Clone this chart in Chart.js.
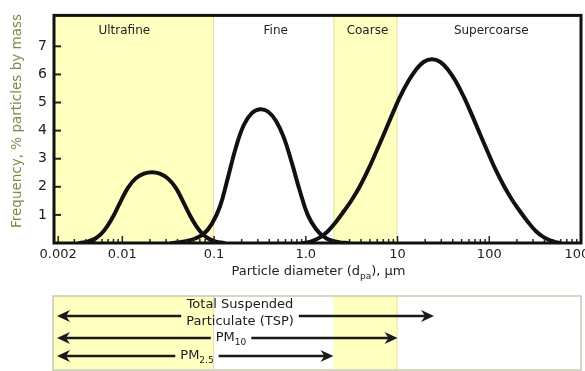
<!DOCTYPE html>
<html><head><meta charset="utf-8">
<script src="https://cdn.jsdelivr.net/npm/chart.js@4/dist/chart.umd.min.js"></script>
<style>html,body{margin:0;padding:0;background:#fff;}canvas{display:block;}</style>
</head><body>
<canvas id="c" width="585" height="371"></canvas>
<script>
// ---- data (particle diameter in µm, frequency in % by mass) ----
const ultrafineX = [0.00344,0.00421,0.00514,0.00628,0.00768,0.00939,0.0115,0.0140,0.0172,0.0210,0.0256,0.0313,0.0383,0.0468,0.0573,0.0700,0.0856,0.105,0.128];
const ultrafineY = [0,0.05,0.17,0.43,0.86,1.42,1.96,2.30,2.47,2.52,2.47,2.30,1.96,1.42,0.86,0.43,0.17,0.05,0];
const fineX = [0.0347,0.0424,0.0518,0.0633,0.0774,0.0946,0.116,0.141,0.173,0.211,0.258,0.316,0.386,0.472,0.577,0.705,0.862,1.05,1.29,1.58,1.93,2.35,2.88];
const fineY = [0,0.03,0.08,0.17,0.33,0.68,1.3,2.3,3.4,4.2,4.62,4.76,4.68,4.35,3.75,2.85,1.85,1.0,0.5,0.22,0.08,0.02,0];
const supercoarseX = [0.954,1.17,1.43,1.74,2.13,2.60,3.18,3.89,4.76,5.81,7.11,8.69,10.6,13.0,15.9,19.4,23.7,29.0,35.5,43.4,53.0,64.8,79.2,96.8,118,145,177,216,264,323,395,483,590];
const supercoarseY = [0,0.07,0.2,0.42,0.75,1.13,1.54,2.02,2.59,3.22,3.88,4.55,5.19,5.74,6.17,6.45,6.54,6.45,6.17,5.74,5.19,4.55,3.88,3.22,2.59,2.02,1.54,1.13,0.75,0.42,0.2,0.07,0];

const bandNames = ['Ultrafine','Fine','Coarse','Supercoarse'];
const bandLow = [0.001, 0.1, 2, 10];
const bandHigh = [0.1, 2, 10, 1000];
const bandShaded = [true, false, true, false];

const xTickValues = [0.002, 0.01, 0.1, 1, 10, 100, 1000];
const xTickLabels = ['0.002','0.01','0.1','1.0','10','100','1000'];
const yTickValues = [1,2,3,4,5,6,7];
const yTitle = 'Frequency, % particles by mass';

const sizeClassLines = [['Total Suspended','Particulate (TSP)'], ['PM','10'], ['PM','2.5']];
const sizeClassUpper = [25, 10, 2];

const xMin = 0.0018, xMax = 1000, yMax = 8.1;

// ---- helpers ----
const FONT = 'DejaVu Sans';
function richText(ctx, parts, cx, cy, size, subSize, color) {
  let w = 0;
  parts.forEach(p => { ctx.font = (p.sub ? subSize : size) + 'px "' + FONT + '"'; w += ctx.measureText(p.t).width; });
  let x = cx - w / 2;
  ctx.fillStyle = color; ctx.textAlign = 'left'; ctx.textBaseline = 'middle';
  parts.forEach(p => {
    ctx.font = (p.sub ? subSize : size) + 'px "' + FONT + '"';
    ctx.fillText(p.t, x, cy + (p.sub ? size * 0.35 : 0));
    x += ctx.measureText(p.t).width;
  });
  return w;
}
function arrowHead(ctx, tipX, y, dir) {
  ctx.beginPath();
  ctx.moveTo(tipX, y);
  ctx.lineTo(tipX - dir * 13, y - 6);
  ctx.lineTo(tipX - dir * 9, y);
  ctx.lineTo(tipX - dir * 13, y + 6);
  ctx.closePath();
  ctx.fill();
}

const decor = {
  id: 'decor',
  beforeDatasetsDraw(chart) {
    const {ctx, chartArea: a, scales: {x}} = chart;
    ctx.save();
    bandNames.forEach((n, i) => {
      if (!bandShaded[i]) return;
      const x0 = x.getPixelForValue(Math.max(bandLow[i], x.min));
      const x1 = x.getPixelForValue(Math.min(bandHigh[i], x.max));
      ctx.fillStyle = '#ffffc0';
      ctx.fillRect(x0, a.top, x1 - x0, a.bottom - a.top);
      ctx.strokeStyle = '#e2e2a6'; ctx.lineWidth = 1;
      ctx.beginPath();
      ctx.moveTo(x0 + 0.5, a.top); ctx.lineTo(x0 + 0.5, a.bottom);
      ctx.moveTo(x1 - 0.5, a.top); ctx.lineTo(x1 - 0.5, a.bottom);
      ctx.stroke();
    });
    ctx.restore();
  },
  afterDatasetsDraw(chart) {
    const {ctx, chartArea: a, scales: {x, y}} = chart;
    ctx.save();
    // band names, centred on the logarithmic middle of each size range
    ctx.font = '12px "' + FONT + '"'; ctx.fillStyle = '#222';
    ctx.textAlign = 'center'; ctx.textBaseline = 'middle';
    bandNames.forEach((n, i) => {
      const mid = Math.sqrt(bandLow[i] * bandHigh[i]);
      ctx.fillText(n, x.getPixelForValue(mid) + 2, a.top + 15);
    });
    // inner ticks
    ctx.strokeStyle = '#222';
    ctx.lineWidth = 1.5;
    x.ticks.forEach(t => {
      const px = x.getPixelForValue(t.value);
      const len = xTickValues.includes(t.value) ? 7 : 4;
      ctx.beginPath(); ctx.moveTo(px, a.bottom); ctx.lineTo(px, a.bottom - len); ctx.stroke();
    });
    ctx.lineWidth = 2;
    y.ticks.forEach(t => {
      const py = y.getPixelForValue(t.value);
      ctx.beginPath(); ctx.moveTo(a.left, py); ctx.lineTo(a.left + 7, py); ctx.stroke();
    });
    // frame
    ctx.strokeStyle = '#111'; ctx.lineWidth = 3;
    ctx.strokeRect(a.left, a.top, a.right - a.left, a.bottom - a.top);
    ctx.restore();
  },
  afterDraw(chart) {
    const {ctx, chartArea: a, scales: {x}} = chart;
    ctx.save();
    // y-axis title
    ctx.translate(17, 121);
    ctx.rotate(-Math.PI / 2);
    ctx.font = '13.5px "' + FONT + '"'; ctx.fillStyle = '#86864a';
    ctx.textAlign = 'center'; ctx.textBaseline = 'middle';
    ctx.fillText(yTitle, 0, 0);
    ctx.setTransform(1, 0, 0, 1, 0, 0);
    // x-axis title
    richText(ctx, [{t:'Particle diameter (d'},{t:'pa',sub:true},{t:'), µm'}], (a.left + a.right) / 2 + 1, 272, 13, 9, '#222');
    // lower panel
    const top = 296, bottom = 370, left = a.left - 1, right = a.right;
    bandNames.forEach((n, i) => {
      if (!bandShaded[i]) return;
      const x0 = x.getPixelForValue(Math.max(bandLow[i], x.min));
      const x1 = x.getPixelForValue(Math.min(bandHigh[i], x.max));
      ctx.fillStyle = '#ffffc0';
      ctx.fillRect(x0, top, x1 - x0, bottom - top);
      ctx.strokeStyle = '#e2e2a6'; ctx.lineWidth = 1;
      ctx.beginPath(); ctx.moveTo(x1 - 0.5, top); ctx.lineTo(x1 - 0.5, bottom); ctx.stroke();
    });
    ctx.strokeStyle = '#c9c9b4'; ctx.lineWidth = 1.5;
    ctx.strokeRect(left, top, right - left, bottom - top);

    const rowsY = [316, 338, 356];
    const labelX = [240, 231, 197];
    sizeClassLines.forEach((lab, i) => {
      const yy = rowsY[i];
      const x0 = x.getPixelForValue(x.min) + 3;
      const x1 = x.getPixelForValue(sizeClassUpper[i]);
      let w;
      if (i === 0) {
        ctx.font = '13px "' + FONT + '"';
        ctx.textAlign = 'center'; ctx.textBaseline = 'middle'; ctx.fillStyle = '#1a1a1a';
        ctx.fillText(lab[0], labelX[i], yy - 11);
        ctx.fillText(lab[1], labelX[i], yy + 6);
        w = ctx.measureText(lab[1]).width;
      } else {
        w = richText(ctx, [{t: lab[0]}, {t: lab[1], sub: true}], labelX[i], yy, 13, 9, '#1a1a1a');
      }
      const g0 = labelX[i] - w / 2 - 5, g1 = labelX[i] + w / 2 + 5;
      ctx.lineWidth = 2.5; ctx.strokeStyle = '#1a1a1a'; ctx.fillStyle = '#1a1a1a';
      ctx.beginPath();
      ctx.moveTo(x0 + 8, yy); ctx.lineTo(g0, yy);
      ctx.moveTo(g1, yy); ctx.lineTo(x1 - 8, yy);
      ctx.stroke();
      arrowHead(ctx, x0, yy, -1);
      arrowHead(ctx, x1, yy, 1);
    });
    ctx.restore();
  }
};

const mk = (xs, ys) => xs.map((v, i) => ({x: v, y: ys[i]}));

new Chart(document.getElementById('c'), {
  type: 'line',
  data: {
    datasets: [
      {label: 'Ultrafine', data: mk(ultrafineX, ultrafineY)},
      {label: 'Fine', data: mk(fineX, fineY)},
      {label: 'Supercoarse', data: mk(supercoarseX, supercoarseY)}
    ]
  },
  options: {
    responsive: false,
    animation: false,
    devicePixelRatio: 1,
    layout: {padding: {top: 10, right: 4, bottom: 88, left: 0}},
    plugins: {legend: {display: false}, tooltip: {enabled: false}},
    elements: {
      point: {radius: 0},
      line: {borderColor: '#111', borderWidth: 4, tension: 0.4, fill: false, borderCapStyle: 'round', borderJoinStyle: 'round'}
    },
    scales: {
      x: {
        type: 'logarithmic', min: xMin, max: xMax,
        grid: {display: false, drawTicks: false},
        border: {display: false},
        afterBuildTicks(s) {
          const vals = [];
          for (let e = -3; e <= 3; e++) for (let m = 1; m <= 9; m++) {
            const v = m * Math.pow(10, e);
            if (v >= s.min && v <= s.max) vals.push(v);
          }
          s.ticks = vals.map(v => {
            const k = xTickValues.find(u => Math.abs(u - v) / v < 1e-9);
            return {value: k !== undefined ? k : v};
          });
        },
        afterFit(s) { s.height = 40; s.paddingLeft = 0; s.paddingRight = 0; },
        ticks: {
          autoSkip: false, maxRotation: 0, minRotation: 0, padding: 4, color: '#222',
          font: {family: FONT, size: 13},
          callback(v) { const i = xTickValues.indexOf(v); return i >= 0 ? xTickLabels[i] : ''; }
        }
      },
      y: {
        min: 0, max: yMax,
        grid: {display: false, drawTicks: false},
        border: {display: false},
        afterBuildTicks(s) { s.ticks = yTickValues.map(v => ({value: v})); },
        afterFit(s) { s.width = 54; },
        ticks: {padding: 7, color: '#222', font: {family: FONT, size: 14}}
      }
    }
  },
  plugins: [decor]
});
</script>
</body></html>
